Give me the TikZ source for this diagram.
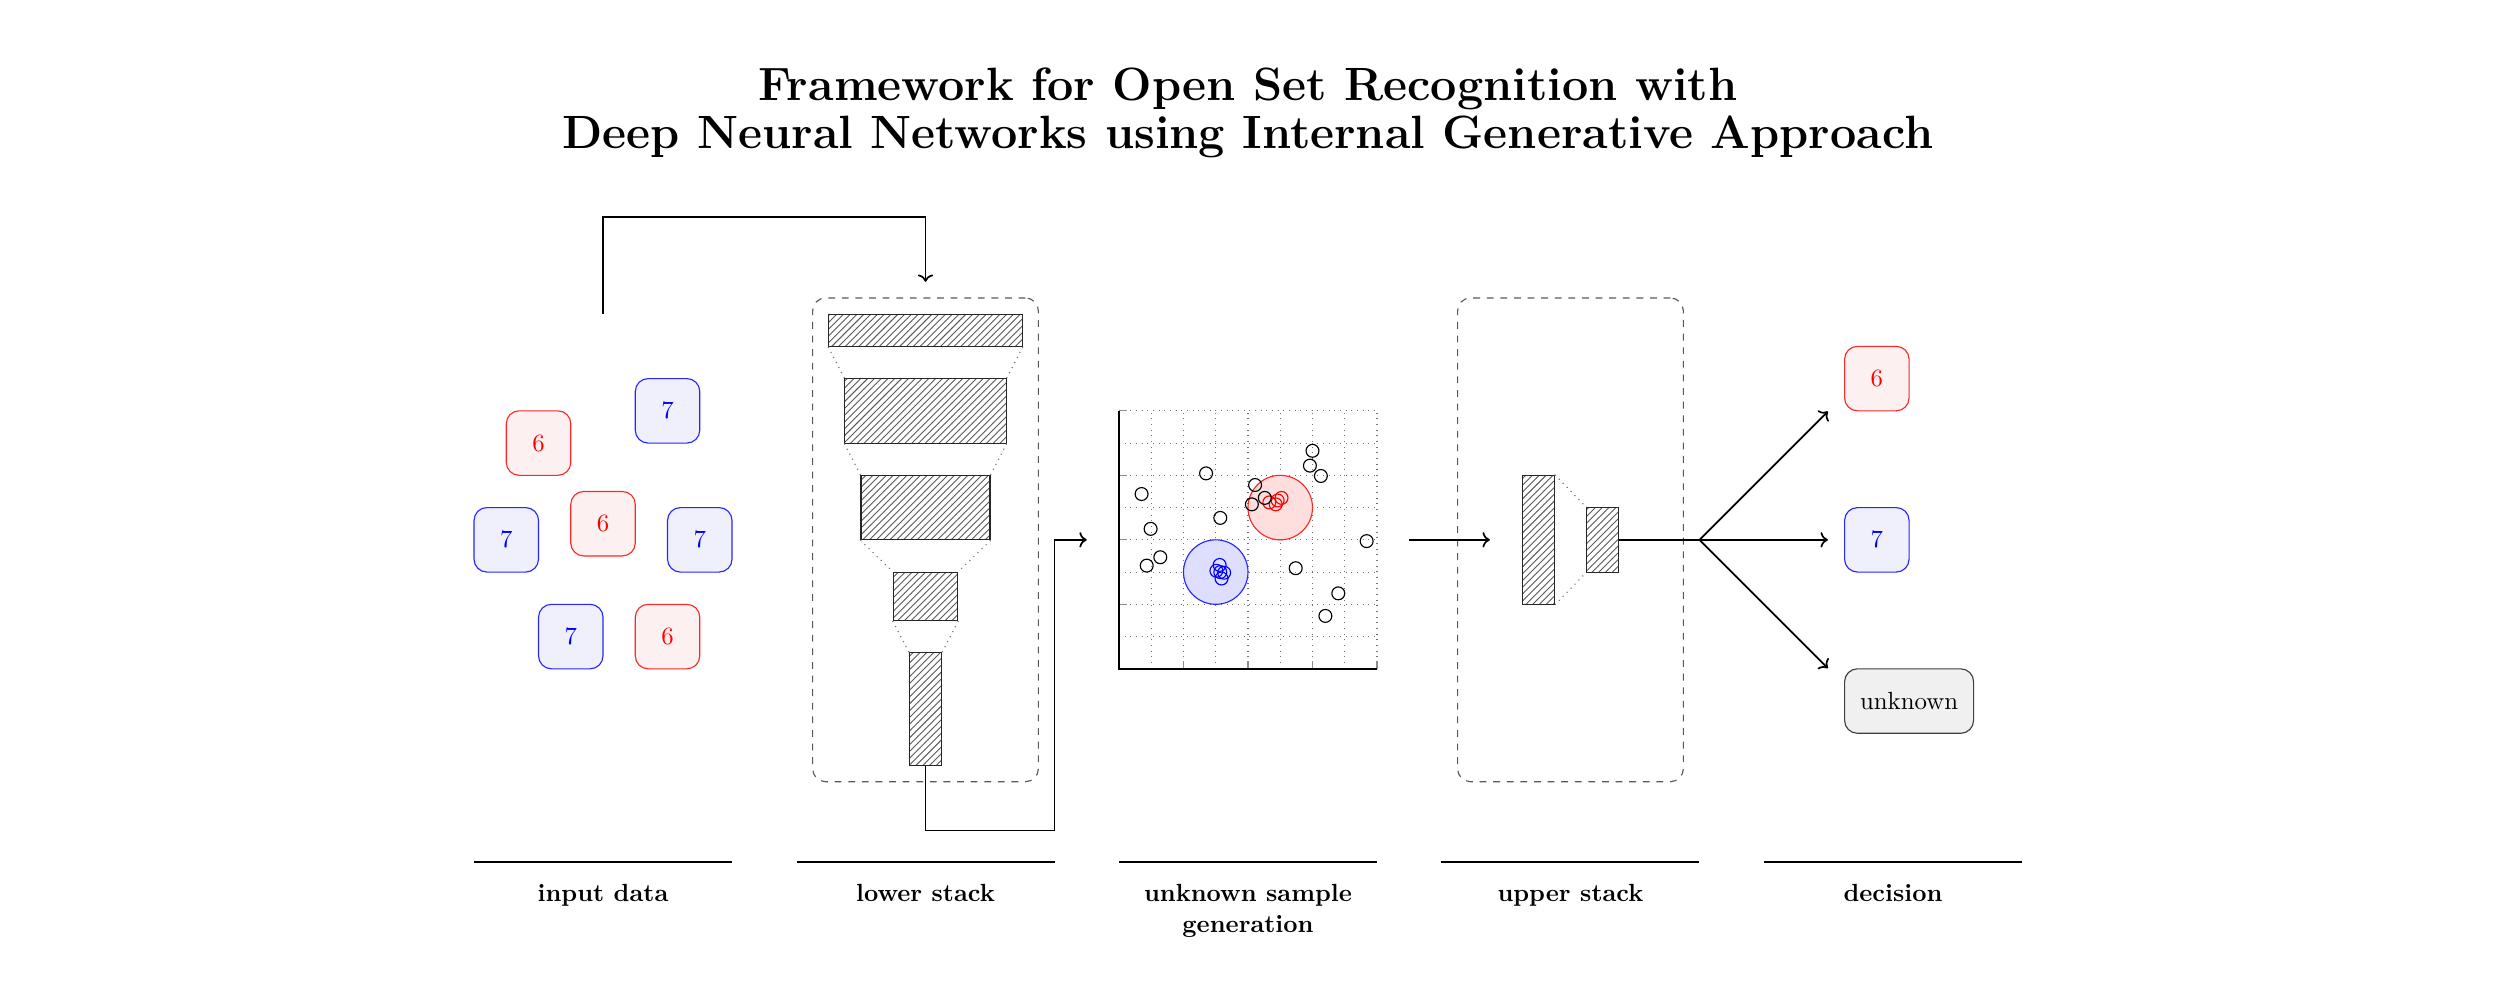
\documentclass[tikz,border=0pt]{standalone}
\usetikzlibrary{patterns,arrows.meta}
\definecolor{sixfill}{RGB}{253,240,240}
\definecolor{sevenfill}{RGB}{240,240,253}
\definecolor{unkfill}{RGB}{240,240,240}
\tikzset{
  digitbox/.style={draw, rounded corners=0.2cm, minimum width=1cm, minimum height=1cm, inner sep=0pt, line width=0.5pt},
  six/.style={digitbox, draw=red!85, fill=sixfill, text=red},
  seven/.style={digitbox, draw=blue!85, fill=sevenfill, text=blue},
  unkbox/.style={digitbox, draw=black!75, fill=unkfill, minimum width=2cm},
  stackbox/.style={draw=black!65, dashed, rounded corners=0.2cm, line width=0.5pt, minimum width=3.5cm, minimum height=7.5cm, inner sep=0pt},
  layer/.style={draw=black!85, line width=0.5pt, pattern=north east lines, pattern color=black!65, inner sep=0pt},
  link/.style={draw=black!55, dotted, line width=0.5pt},
  conn/.style={draw=black, line width=0.75pt},
  arr/.style={conn, ->},
  gridline/.style={draw=black!55, dotted, line width=0.5pt},
  tickmark/.style={draw=black!45, line width=0.5pt},
  sample/.style={draw=black, line width=0.5pt},
  collabel/.style={anchor=north, font=\bfseries, align=center, inner sep=0pt},
  rule/.style={draw=black, thick}
}
\begin{document}
\fontsize{10.95}{13.6}\selectfont
\begin{tikzpicture}
\useasboundingbox (-17.35,-5.05) rectangle (21.35,10.37);

% title
\node[font=\fontsize{20.6}{20.8}\selectfont\bfseries, align=center] (title) at (2,8.62)
  {Framework for Open Set Recognition with\\Deep Neural Networks using Internal Generative Approach};

% input data
\node[six]   (i6a) at (-9,3.5)   {6};
\node[seven] (i7a) at (-7,4)     {7};
\node[seven] (i7b) at (-9.5,2)   {7};
\node[six]   (i6b) at (-8,2.25)  {6};
\node[seven] (i7c) at (-6.5,2)   {7};
\node[seven] (i7d) at (-8.5,0.5) {7};
\node[six]   (i6c) at (-7,0.5)   {6};
\coordinate (inTop) at (-8,5.5);

% lower stack
\node[stackbox] (ls) at (-3,2) {};
\node[layer, minimum width=3cm, minimum height=0.5cm]   (l1) at (-3,5.25)  {};
\node[layer, minimum width=2.5cm, minimum height=1cm]   (l2) at (-3,4)     {};
\node[layer, minimum width=2cm, minimum height=1cm]     (l3) at (-3,2.5)   {};
\node[layer, minimum width=1cm, minimum height=0.75cm]  (l4) at (-3,1.125) {};
\node[layer, minimum width=0.5cm, minimum height=1.75cm] (l5) at (-3,-0.625) {};
\draw[link] (l1.south west) -- (l2.north west);
\draw[link] (l1.south east) -- (l2.north east);
\draw[link] (l2.south west) -- (l3.north west);
\draw[link] (l2.south east) -- (l3.north east);
\draw[link] (l3.south west) -- (l4.north west);
\draw[link] (l3.south east) -- (l4.north east);
\draw[link] (l4.south west) -- (l5.north west);
\draw[link] (l4.south east) -- (l5.north east);
\coordinate (lsIn) at (-3,6);
\coordinate (lsBend) at (-1,2);

% unknown sample generation
\draw[gridline] (0,0) grid[step=0.5] (4,4);
\foreach \t in {1,2,3,4} {
  \draw[tickmark] (0,\t) -- (0.12,\t);
  \draw[tickmark] (\t,0) -- (\t,0.12);
}
\draw[thick] (0,4) -- (0,0) -- (4,0);
\fill[blue!13] (1.5,1.5) circle (0.5);
\draw[blue!85, line width=0.5pt] (1.5,1.5) circle (0.5);
\fill[red!13] (2.5,2.5) circle (0.5);
\draw[red!85, line width=0.5pt] (2.5,2.5) circle (0.5);
\foreach \p in {(1.56,1.61),(1.51,1.52),(1.63,1.49),(1.59,1.40),(1.57,1.50)}
  \draw[blue, line width=0.5pt] \p circle (0.1);
\foreach \p in {(2.33,2.58),(2.43,2.55),(2.52,2.65),(2.46,2.61)}
  \draw[red, line width=0.5pt] \p circle (0.1);
\foreach \p in {(0.35,2.71),(0.49,2.17),(0.64,1.73),(0.43,1.60),(1.35,3.03),(1.57,2.34),
                (2.11,2.85),(2.26,2.65),(2.06,2.55),(3.00,3.38),(2.96,3.15),(3.13,2.99),
                (3.84,1.98),(2.74,1.56),(3.40,1.17),(3.20,0.82)}
  \draw[sample] \p circle (0.1);
\coordinate (sgIn) at (-0.5,2);
\coordinate (sgOut) at (4.5,2);

% upper stack
\node[stackbox] (us) at (7,2) {};
\node[layer, minimum width=0.5cm, minimum height=2cm] (ua) at (6.5,2) {};
\node[layer, minimum width=0.5cm, minimum height=1cm] (ub) at (7.5,2) {};
\draw[link] (ua.north east) -- (ub.north west);
\draw[link] (ua.south east) -- (ub.south west);
\coordinate (usIn) at (5.75,2);
\coordinate (br) at (9,2);

% decision
\node[six]   (d6) at (11.75,4.5) {6};
\node[seven] (d7) at (11.75,2)   {7};
\node[unkbox] (du) at (12.25,-0.5) {unknown};
\coordinate (d6in) at ([xshift=-0.25cm]d6.south west);
\coordinate (d7in) at ([xshift=-0.25cm]d7.west);
\coordinate (duin) at ([xshift=-0.25cm]du.north west);

% connectors
\draw[arr] (inTop) -- ++(0,1.5) -| (lsIn);
\draw[arr] (l5.south) -- ++(0,-1) -| (lsBend) -- (sgIn);
\draw[arr] (sgOut) -- (usIn);
\draw[conn] (ub.east) -- (br);
\draw[arr] (br) -- (d6in);
\draw[arr] (br) -- (d7in);
\draw[arr] (br) -- (duin);

% column rules and labels
\draw[rule] (-10,-3) -- (-6,-3);
\draw[rule] (-5,-3) -- (-1,-3);
\draw[rule] (0,-3) -- (4,-3);
\draw[rule] (5,-3) -- (9,-3);
\draw[rule] (10,-3) -- (14,-3);
\node[collabel] (linput) at (-8,-3.33) {input data};
\node[collabel] (llower) at (-3,-3.33) {lower stack};
\node[collabel] (lgen)   at (2,-3.33)  {unknown sample\\generation};
\node[collabel] (lupper) at (7,-3.33)  {upper stack};
\node[collabel] (ldec)   at (12,-3.33) {decision};
\end{tikzpicture}
\end{document}
